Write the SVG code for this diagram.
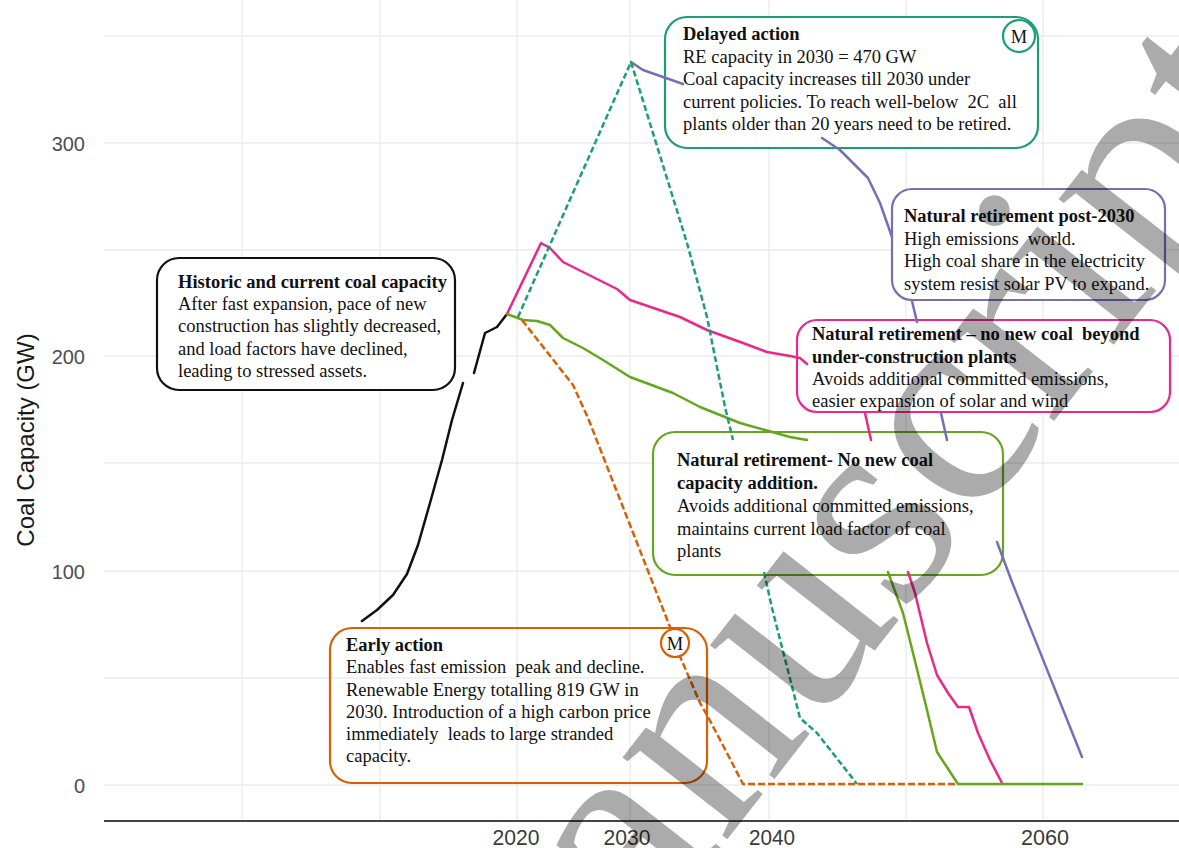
<svg xmlns="http://www.w3.org/2000/svg" width="1179" height="848" viewBox="0 0 1179 848">
<defs>
<style>
.grid{stroke:#ebebeb;stroke-width:1.4;fill:none}
.box{fill:#fff;stroke-width:2.2}
.t{font-family:"Liberation Serif","Times New Roman",serif;font-size:18.5px;fill:#111}
.b{font-weight:bold}
.ln{fill:none;stroke-width:2.5;stroke-linejoin:round;stroke-linecap:round}
.dt{stroke-dasharray:6 3;stroke-linecap:butt}
.do{stroke-dasharray:7 3;stroke-linecap:butt}
.tick{font-family:"Liberation Sans",Arial,sans-serif;font-size:20px;fill:#4d4d4d}
.xt{font-family:"Liberation Sans",Arial,sans-serif;font-size:22px;fill:#3a3a3a}
.teal{stroke:#1b9e77}.orange{stroke:#d95f02}.purple{stroke:#7570b3}.pink{stroke:#e7298a}.green{stroke:#66a61e}.black{stroke:#111}
</style>
</defs>
<rect width="1179" height="848" fill="#fff"/>
<g id="grid">
<path class="grid" d="M104 36H1179M104 143H1179M104 250H1179M104 356H1179M104 463H1179M104 571H1179M104 678H1179M104 785H1179"/>
<path class="grid" d="M242 0V820M380 0V820M517 0V820M630 0V820M769 0V820M906 0V820M1043 0V820"/>
</g>
<g id="axes">
<line x1="104" y1="821" x2="1179" y2="821" stroke="#444" stroke-width="2.2"/>
<text class="tick" x="85" y="151" text-anchor="end">300</text>
<text class="tick" x="85" y="364" text-anchor="end">200</text>
<text class="tick" x="85" y="579" text-anchor="end">100</text>
<text class="tick" x="85" y="793" text-anchor="end">0</text>
<text class="xt" x="516" y="845" text-anchor="middle" textLength="47" lengthAdjust="spacingAndGlyphs">2020</text>
<text class="xt" x="627" y="845" text-anchor="middle" textLength="47" lengthAdjust="spacingAndGlyphs">2030</text>
<text class="xt" x="772" y="845" text-anchor="middle" textLength="46" lengthAdjust="spacingAndGlyphs">2040</text>
<text class="xt" x="1045" y="845" text-anchor="middle" textLength="48" lengthAdjust="spacingAndGlyphs">2060</text>
<text x="0" y="0" transform="translate(34,440) rotate(-90)" text-anchor="middle" font-family="Liberation Sans,Arial,sans-serif" font-size="24" fill="#1a1a1a">Coal Capacity (GW)</text>
</g>
<g id="node-historic">
<rect class="box" x="157" y="258" width="298" height="132" rx="22" stroke="#111"/>
<text class="t b" x="178" y="288">Historic and current coal capacity</text>
<text class="t" x="178" y="310">After fast expansion, pace of new</text>
<text class="t" x="178" y="332">construction has slightly decreased,</text>
<text class="t" x="178" y="355">and load factors have declined,</text>
<text class="t" x="178" y="377">leading to stressed assets.</text>
</g>
<g id="node-delayed">
<rect class="box" x="665" y="17" width="373" height="131" rx="22" stroke="#1b9e77"/>
<text class="t b" x="683" y="40">Delayed action</text>
<text class="t" x="683" y="62.5">RE capacity in 2030 = 470 GW</text>
<text class="t" x="683" y="85">Coal capacity increases till 2030 under</text>
<text class="t" x="683" y="107.5">current policies. To reach well-below&#160; 2C&#160; all</text>
<text class="t" x="683" y="130">plants older than 20 years need to be retired.</text>
</g>
<g id="node-post2030">
<rect class="box" x="892" y="189" width="273" height="111" rx="20" stroke="#7570b3"/>
<text class="t b" x="904" y="222">Natural retirement post-2030</text>
<text class="t" x="904" y="245">High emissions&#160; world.</text>
<text class="t" x="904" y="267">High coal share in the electricity</text>
<text class="t" x="904" y="290">system resist solar PV to expand.</text>
</g>
<g id="node-underconstruction">
<rect class="box" x="797" y="320" width="373" height="92" rx="20" stroke="#e7298a"/>
<text class="t b" x="812" y="340">Natural retirement – no new coal&#160; beyond</text>
<text class="t b" x="812" y="362.5">under-construction plants</text>
<text class="t" x="812" y="385">Avoids additional committed emissions,</text>
<text class="t" x="812" y="407">easier expansion of solar and wind</text>
</g>
<g id="node-nonew">
<rect class="box" x="653" y="432" width="350" height="143" rx="22" stroke="#66a61e"/>
<text class="t b" x="677" y="466">Natural retirement- No new coal</text>
<text class="t b" x="677" y="489">capacity addition.</text>
<text class="t" x="677" y="512">Avoids additional committed emissions,</text>
<text class="t" x="677" y="534.5">maintains current load factor of coal</text>
<text class="t" x="677" y="557">plants</text>
</g>
<g id="node-early">
<rect x="330" y="628" width="377" height="155" rx="22" fill="none" stroke="#d95f02" stroke-width="2.2"/>
<text class="t b" x="346" y="651">Early action</text>
<text class="t" x="346" y="673">Enables fast emission&#160; peak and decline.</text>
<text class="t" x="346" y="695.5">Renewable Energy totalling 819 GW in</text>
<text class="t" x="346" y="718">2030. Introduction of a high carbon price</text>
<text class="t" x="346" y="740">immediately&#160; leads to large stranded</text>
<text class="t" x="346" y="762">capacity.</text>
</g>
<g id="connectors">
<polyline class="ln black" points="362,621 377,610 393,595 407,574 418,545 430,503 442,460 452,420 463,383"/>
<polyline class="ln black" points="474,373 485,333 497,327 507,314"/>
<polyline class="ln pink" points="507,314 541,243 550,248 563,262 583,272 603,282 617,289 630,300 680,317 707,330 743,343 767,352 790,356 800,358 807,364"/>
<polyline class="ln pink" points="865,413 871,440"/>
<polyline class="ln pink" points="908,572 915,593 927,643 937,675 948,693 958,707 969,707 978,733 990,760 1002,783"/>
<polyline class="ln green" points="507,314 523,320 537,321 550,325 563,338 583,348 603,360 630,377 673,393 700,407 740,423 790,437 807,440"/>
<polyline class="ln green" points="888,572 903,613 913,653 927,710 937,752 958,784 1082,784"/>
<polyline class="ln purple" points="631,62 643,70 683,84"/>
<polyline class="ln purple" points="822,138 840,150 868,178 880,203 892,237"/>
<polyline class="ln purple" points="912,301 917,322"/>
<polyline class="ln purple" points="941,413 947,440"/>
<polyline class="ln purple" points="997,542 1012,582 1082,757"/>
<polyline class="ln orange do" points="522,320 573,385 588,418 672,632"/>
<polyline class="ln orange do" points="679,654 700,703 707,715 727,753 743,784 957,784"/>
<polyline class="ln teal dt" points="518,317 572,195 631,62 687,243 707,317 725,407 733,440"/>
<polyline class="ln teal dt" points="764,572 772,608 800,718 817,733 857,784"/>
<circle cx="1019" cy="36" r="16" fill="#fff" stroke="#1b9e77" stroke-width="2.2"/>
<text class="t" x="1019" y="42.5" text-anchor="middle">M</text>
<circle cx="675" cy="643" r="14" fill="#fff" stroke="#d95f02" stroke-width="2.2"/>
<text class="t" x="675" y="649.5" text-anchor="middle">M</text>
</g>
<g id="watermark">
<text x="0" y="0" transform="translate(644,946) rotate(-52)" font-family="Liberation Serif,Times New Roman,serif" font-size="290" fill="#000" fill-opacity="0.33">anuscript</text>
</g>
</svg>
